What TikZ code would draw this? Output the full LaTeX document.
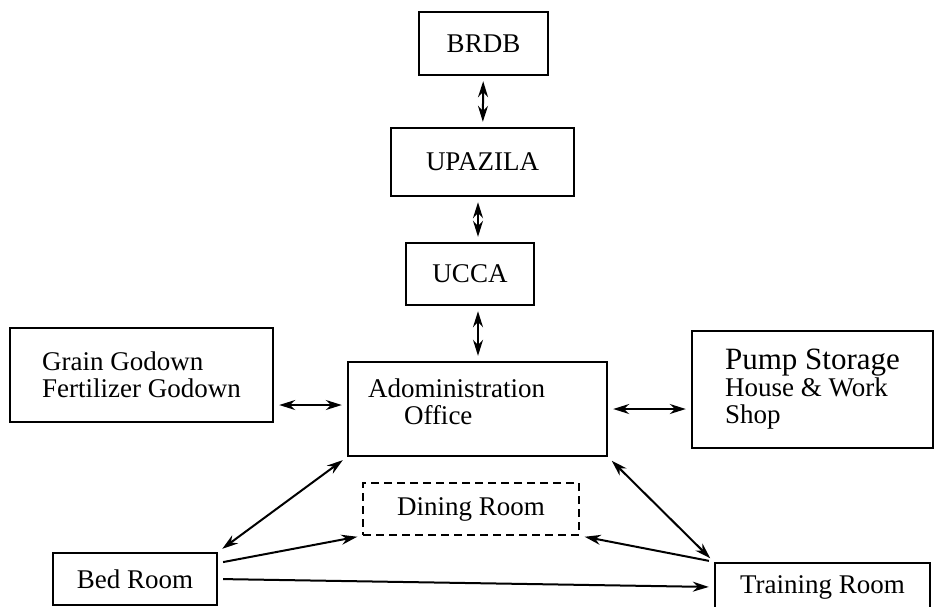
\documentclass[tikz,border=0pt]{standalone}
\usepackage{fontspec}
\setmainfont{Liberation Serif}
\usetikzlibrary{arrows.meta}
\tikzstyle{unit} = [rectangle, draw=black, very thick, fill=white, align=center, inner sep=0pt, font=\fontsize{13.5}{13.5}\selectfont]
\tikzstyle{store} = [unit, align=left]
\tikzstyle{dashedunit} = [unit, thick, dash pattern=on 4pt off 2.5pt]
\tikzstyle{arrow} = [line width=1pt,-{Stealth[length=8pt,width=5pt]}, shorten >=2.5pt, shorten <=2.5pt]
\tikzstyle{twoway} = [line width=1pt,{Stealth[length=8pt,width=5pt]}-{Stealth[length=8pt,width=5pt]}, shorten >=2.5pt, shorten <=2.5pt]

\begin{document}
\begin{tikzpicture}[x=0.5pt, y=-0.5pt]
                \useasboundingbox (0,0) rectangle (936,606);

% ---------------------------------------------
% Top column
% ---------------------------------------------
                \node (brdb) [unit, minimum width=64.5pt, minimum height=31.5pt] at (483.5,43.5) {BRDB};
                \node (upazila) [unit, minimum width=91.5pt, minimum height=34pt] at (482.5,162) {UPAZILA};
                \node (ucca) [unit, minimum width=64pt, minimum height=31pt] at (470,274) {UCCA};
                \node (admin) [unit, align=left, text width=109.5pt, text depth=21pt, minimum width=129.5pt, minimum height=47pt] at (477.5,409) {Adoministration\\\hspace*{18pt}Office};

                \draw [twoway] (brdb) -- (upazila);
                \draw [twoway] ([xshift=4pt]upazila.south -| ucca) -- ([xshift=4pt]ucca.north);
                \draw [twoway] ([xshift=4pt]ucca.south) -- ([xshift=4pt]ucca.south |- admin.north);

% ---------------------------------------------
% Left and right stores
% ---------------------------------------------
                \node (grain) [store, minimum width=131.5pt, minimum height=47pt] at (141.5,375) {Grain Godown\\Fertilizer Godown};
                \node (pump) [store, minimum width=120.5pt, minimum height=58.5pt] at (812.5,389.5) {{\fontsize{15.5}{15.5}\selectfont Pump Storage}\\House \& Work\\Shop};

                \draw [twoway] ([yshift=-15pt]grain.east) -- ([yshift=-15pt]grain.east -| admin.west);
                \draw [twoway] (admin.east) -- (admin.east -| pump.west);

% ---------------------------------------------
% Bottom rooms
% ---------------------------------------------
                \node (dining) [dashedunit, minimum width=108pt, minimum height=26pt] at (471,509) {Dining Room};
                \node (bed) [unit, minimum width=82pt, minimum height=26pt] at (135,579) {Bed Room};
                \node (training) [unit, minimum width=107.5pt, minimum height=24pt] at (822.5,587) {Training Room};

                \draw [twoway] (bed.north east) -- (admin.south west);
                \draw [arrow] ([yshift=8pt]bed.east) -- (dining.south west);
                \draw [arrow] (bed.east) -- (training.west);
                \draw [twoway] (admin.south east) -- (training.north west);
                \draw [arrow] (training.north west) -- (dining.south east);

            \end{tikzpicture}
\end{document}
